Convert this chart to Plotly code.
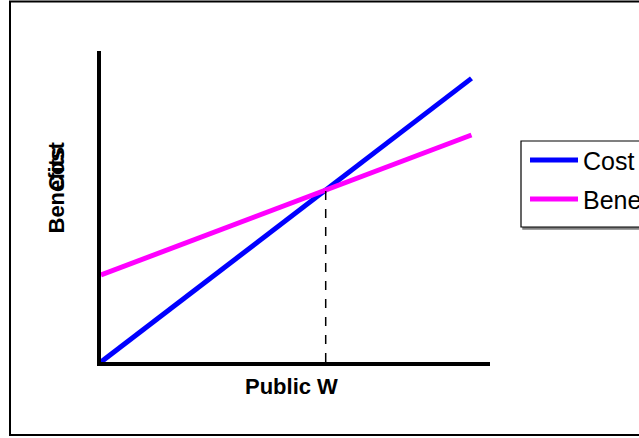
import numpy as np
import plotly.graph_objects as go

# Data
quantity = [0, 1, 2, 3, 4, 5, 6, 7, 8, 9, 10]
cost = [0, 0.91, 1.82, 2.74, 3.65, 4.56, 5.47, 6.38, 7.30, 8.21, 9.12]
benefit = [2.8, 3.25, 3.70, 4.15, 4.60, 5.05, 5.50, 5.95, 6.40, 6.85, 7.30]
series_names = ["Cost", "Benefits"]
x_title = "Public W"
y_titles = ["Benefits", "Cost"]

# Figure geometry (pixels)
W, H = 639, 438
L, R, T, B = 101, 149, 51, 76
pw, ph = W - L - R, H - T - B

def px(xp):
    return (xp - L) / pw

def py(yp):
    return (H - B - yp) / ph

# intersection (derived from the data)
q = np.array(quantity, float)
d = np.array(benefit) - np.array(cost)
i = int(np.where(np.diff(np.sign(d)) != 0)[0][0])
t = d[i] / (d[i] - d[i + 1])
eq_x = q[i] + t * (q[i + 1] - q[i])
eq_y = cost[i] + t * (cost[i + 1] - cost[i])

fig = go.Figure()
fig.add_trace(go.Scatter(x=quantity, y=cost, mode="lines", name=series_names[0],
                         line=dict(color="#0000FF", width=5), showlegend=False))
fig.add_trace(go.Scatter(x=quantity, y=benefit, mode="lines", name=series_names[1],
                         line=dict(color="#FF00FF", width=5), showlegend=False))

shapes = []
# dashed equilibrium line
shapes.append(dict(type="line", xref="x", yref="y", x0=eq_x, x1=eq_x, y0=0, y1=eq_y,
                   line=dict(color="black", width=1.5, dash="dash")))
# outer border
shapes.append(dict(type="rect", xref="paper", yref="paper",
                   x0=px(10), x1=px(700), y0=py(435), y1=py(1.5),
                   line=dict(color="black", width=2), layer="below"))
# legend shadow and box
shapes.append(dict(type="rect", xref="paper", yref="paper",
                   x0=px(523), x1=px(700), y0=py(229), y1=py(143),
                   line=dict(color="#808080", width=1.5), fillcolor="#808080"))
shapes.append(dict(type="rect", xref="paper", yref="paper",
                   x0=px(521), x1=px(700), y0=py(227), y1=py(141),
                   line=dict(color="black", width=1.2), fillcolor="white"))
colors = ["#0000FF", "#FF00FF"]
rows = [160, 199]
annotations = []
for name, c, ry in zip(series_names, colors, rows):
    shapes.append(dict(type="line", xref="paper", yref="paper",
                       x0=px(530), x1=px(578), y0=py(ry), y1=py(ry),
                       line=dict(color=c, width=5)))
    annotations.append(dict(text=name, xref="paper", yref="paper", x=px(581), y=py(ry + 1),
                            xanchor="left", yanchor="middle", showarrow=False,
                            font=dict(family="Liberation Sans, Arial", size=25, color="black")))

# axis titles
annotations.append(dict(text="<b>%s</b>" % x_title, xref="paper", yref="paper",
                        x=px(291), y=py(386), xanchor="center", yanchor="middle",
                        showarrow=False,
                        font=dict(family="Liberation Sans, Arial", size=22, color="black")))
annotations.append(dict(text="<b>%s</b>" % y_titles[0], xref="paper", yref="paper",
                        x=px(56), y=py(236), xanchor="center", yanchor="bottom",
                        textangle=-90, showarrow=False,
                        font=dict(family="Liberation Sans, Arial", size=22, color="black")))
annotations.append(dict(text="<b>%s</b>" % y_titles[1], xref="paper", yref="paper",
                        x=px(56), y=py(193), xanchor="center", yanchor="bottom",
                        textangle=-90, showarrow=False,
                        font=dict(family="Liberation Sans, Arial", size=22, color="black")))

fig.update_layout(
    width=W, height=H,
    margin=dict(l=L, r=R, t=T, b=B, pad=0),
    paper_bgcolor="white", plot_bgcolor="white",
    shapes=shapes, annotations=annotations,
    xaxis=dict(range=[0, 10.5], showgrid=False, zeroline=False, showticklabels=False,
               ticks="", showline=True, linecolor="black", linewidth=4, fixedrange=True),
    yaxis=dict(range=[0, 10], showgrid=False, zeroline=False, showticklabels=False,
               ticks="", showline=True, linecolor="black", linewidth=4, fixedrange=True),
)

fig.write_html("out.html", config={"displayModeBar": False},
               post_script="document.body.style.margin='0';document.body.style.overflow='hidden';")
